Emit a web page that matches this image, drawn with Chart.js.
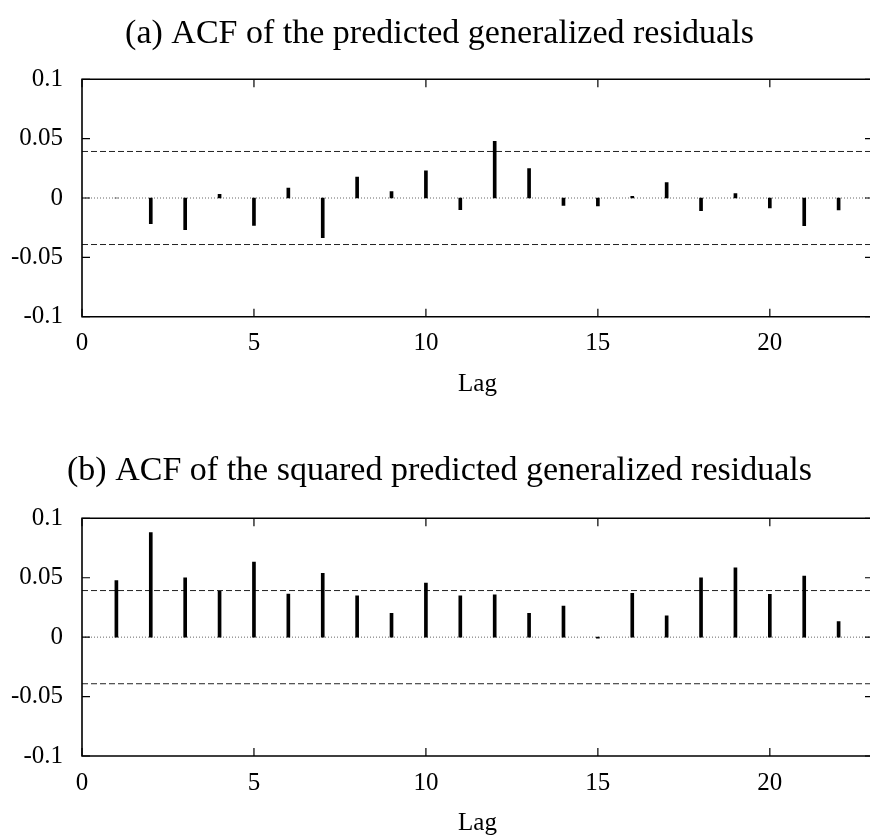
<!DOCTYPE html>
<html>
<head>
<meta charset="utf-8">
<script src="https://cdn.jsdelivr.net/npm/chart.js@4.4.1/dist/chart.umd.min.js"></script>
<style>
  html, body { margin: 0; padding: 0; background: #fff; overflow: hidden; width: 870px; height: 835px; }
  .wrap { position: absolute; left: 0; width: 880px; }
</style>
</head>
<body>
<div class="wrap" style="top:0;height:418px"><canvas id="acfA" width="880" height="418"></canvas></div>
<div class="wrap" style="top:418px;height:425px"><canvas id="acfB" width="880" height="425"></canvas></div>
<script>
// lags 1..22
const lags = [1, 2, 3, 4, 5, 6, 7, 8, 9, 10, 11, 12, 13, 14, 15, 16, 17, 18, 19, 20, 21, 22];

// (a) ACF of predicted generalized residuals
const acfResid = [0, -0.0216, -0.0267, 0.0031, -0.023, 0.0084, -0.0334, 0.0177, 0.0054, 0.0228,
  -0.0098, 0.0478, 0.0248, -0.0062, -0.0067, 0.0014, 0.013, -0.0106, 0.0037, -0.0084, -0.0233, -0.0101];

// (b) ACF of squared predicted generalized residuals
const acfSquared = [0.0477, 0.0879, 0.050, 0.0385, 0.0631, 0.0362, 0.0536, 0.0348, 0.020, 0.0455,
  0.0348, 0.0357, 0.020, 0.0261, -0.0008, 0.0368, 0.018, 0.050, 0.0584, 0.036, 0.0513, 0.0132];

// confidence band +/- 1.96/sqrt(n)
const confBand = 0.0392;

const xRange = [0, 23];
const xTicks = [0, 5, 10, 15, 20];
const xTickLabels = ['0', '5', '10', '15', '20'];
const yTicks = [-0.1, -0.05, 0, 0.05, 0.1];
const yTickLabels = ['-0.1', '-0.05', '0', '0.05', '0.1'];

Chart.defaults.font.family = "'Liberation Serif', 'Times New Roman', serif";
Chart.defaults.font.size = 25;
Chart.defaults.color = '#000';

// frame + inward ticks on all four sides (gnuplot style)
const frameTicks = {
  id: 'frameTicks',
  afterDatasetsDraw(chart) {
    const { ctx, chartArea: a, scales: { x, y } } = chart;
    const len = 8;
    ctx.save();
    ctx.strokeStyle = '#000';
    ctx.lineWidth = 1.2;
    ctx.beginPath();
    xTicks.forEach(v => {
      const px = x.getPixelForValue(v);
      ctx.moveTo(px, a.bottom); ctx.lineTo(px, a.bottom - len);
      ctx.moveTo(px, a.top); ctx.lineTo(px, a.top + len);
    });
    yTicks.forEach(v => {
      const py = y.getPixelForValue(v);
      ctx.moveTo(a.left, py); ctx.lineTo(a.left + len, py);
      ctx.moveTo(a.right, py); ctx.lineTo(a.right - len, py);
    });
    ctx.stroke();
    // right edge falls outside the picture, so only top/left/bottom
    ctx.lineWidth = 1.6;
    ctx.beginPath();
    ctx.moveTo(a.right + 2, a.top);
    ctx.lineTo(a.left, a.top);
    ctx.lineTo(a.left, a.bottom);
    ctx.lineTo(a.right + 2, a.bottom);
    ctx.stroke();
    ctx.restore();
  }
};

function hLine(yv) {
  return [{ x: xRange[0], y: yv }, { x: xRange[1], y: yv }];
}

function makeChart(id, title, values, cfg) {
  const ctx = document.getElementById(id).getContext('2d');
  return new Chart(ctx, {
    type: 'bar',
    data: {
      datasets: [
        {
          label: 'ACF',
          data: lags.map((l, i) => ({ x: l, y: values[i] })),
          backgroundColor: '#000',
          borderWidth: 0,
          barThickness: 3,
          order: 0
        },
        {
          type: 'line', label: 'upper', data: hLine(confBand),
          borderColor: '#222', borderWidth: 1, borderDash: [6, 3], pointRadius: 0, order: 1
        },
        {
          type: 'line', label: 'lower', data: hLine(-confBand),
          borderColor: '#222', borderWidth: 1, borderDash: [6, 3], pointRadius: 0, order: 1
        },
        {
          type: 'line', label: 'zero', data: hLine(0),
          borderColor: '#666', borderWidth: 1, borderDash: [1, 2], pointRadius: 0, order: 1
        }
      ]
    },
    options: {
      responsive: false,
      animation: false,
      events: [],
      layout: { padding: { left: 6, right: 7, top: 0, bottom: 0 } },
      plugins: {
        legend: { display: false },
        tooltip: { enabled: false },
        title: {
          display: true,
          text: title,
          color: '#000',
          font: { size: 34, weight: 'normal' },
          padding: { top: cfg.titleTop, bottom: cfg.titleBottom }
        }
      },
      scales: {
        x: {
          type: 'linear',
          min: xRange[0],
          max: xRange[1],
          offset: false,
          grid: { display: false, drawTicks: false },
          border: { display: false },
          afterBuildTicks: s => { s.ticks = xTicks.map(v => ({ value: v })); },
          afterFit: s => { s.height = cfg.xHeight; },
          ticks: {
            padding: 12,
            maxRotation: 0,
            callback: (v, i) => xTickLabels[i]
          },
          title: {
            display: true,
            text: 'Lag',
            padding: { top: 0, bottom: cfg.lagBottom }
          }
        },
        y: {
          min: yTicks[0],
          max: yTicks[yTicks.length - 1],
          grid: { display: false, drawTicks: false },
          border: { display: false },
          afterBuildTicks: s => { s.ticks = yTicks.map(v => ({ value: v })); },
          afterFit: s => { s.width = 76; },
          ticks: {
            padding: 19,
            callback: (v, i) => yTickLabels[i]
          }
        }
      }
    },
    plugins: [frameTicks]
  });
}

makeChart('acfA', '(a) ACF of the predicted generalized residuals', acfResid,
  { titleTop: 13.5, titleBottom: 25, xHeight: 101.3, lagBottom: 18.5 });
makeChart('acfB', '(b) ACF of the squared predicted generalized residuals', acfSquared,
  { titleTop: 32.4, titleBottom: 27.1, xHeight: 87, lagBottom: 5 });
</script>
</body>
</html>
